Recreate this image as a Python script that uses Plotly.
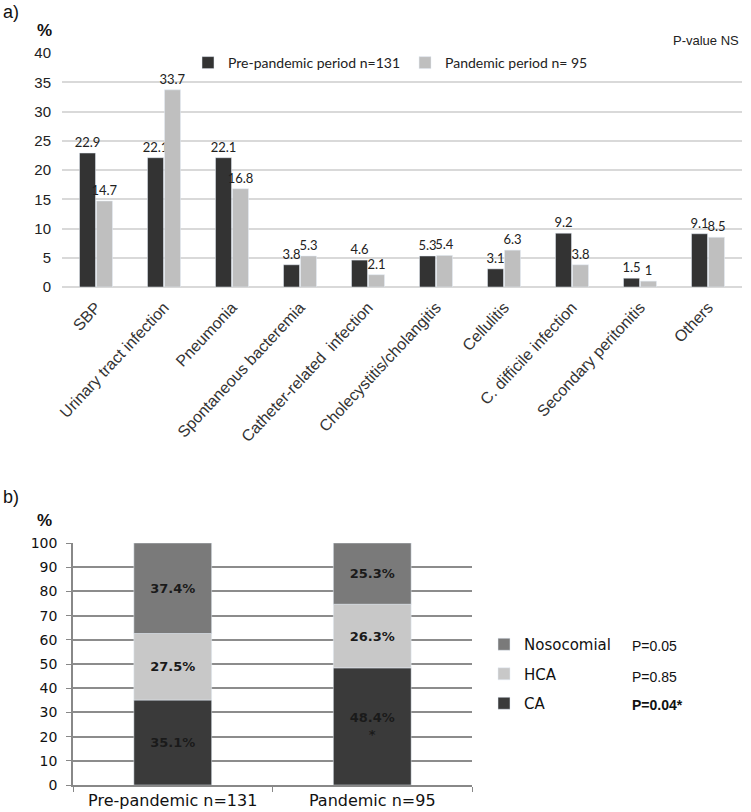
import plotly.graph_objects as go

# ---- Panel a data ----
infections = ["SBP", "Urinary tract infection", "Pneumonia", "Spontaneous bacteremia",
              "Catheter-related  infection", "Cholecystitis/cholangitis", "Cellulitis",
              "C. difficile infection", "Secondary peritonitis", "Others"]
pre_pandemic = [22.9, 22.1, 22.1, 3.8, 4.6, 5.3, 3.1, 9.2, 1.5, 9.1]
pandemic = [14.7, 33.7, 16.8, 5.3, 2.1, 5.4, 6.3, 3.8, 1, 8.5]
a_ticks = [0, 5, 10, 15, 20, 25, 30, 35, 40]

# ---- Panel b data ----
periods = ["Pre-pandemic n=131", "Pandemic n=95"]
ca = [35.1, 48.4]
hca = [27.5, 26.3]
nosocomial = [37.4, 25.3]
ca_text = ["35.1%", "48.4%<br>*"]
b_ticks = [0, 10, 20, 30, 40, 50, 60, 70, 80, 90, 100]
p_values = ["P=0.05", "P=0.85", "<b>P=0.04*</b>"]
p_rows = [646, 677, 705]

W, H = 751, 812
def py(p):  # reference pixel y -> paper
    return min(1, max(0, 1 - p / H))
def px(p):
    return min(1, max(0, p / W))

LATO = "Lato, Liberation Sans, sans-serif"
ARIAL = "Liberation Sans, Arial, sans-serif"
VERD = "DejaVu Sans, Verdana, sans-serif"

fig = go.Figure()

fig.add_trace(go.Bar(x=infections, y=pre_pandemic, name="Pre-pandemic period n=131",
                     marker_color="#333333", text=[str(v) for v in pre_pandemic],
                     textposition="outside", cliponaxis=False, constraintext="none",
                     textfont=dict(family=LATO, size=13, color="#222"),
                     xaxis="x", yaxis="y", legend="legend"))
fig.add_trace(go.Bar(x=infections, y=pandemic, name="Pandemic period n= 95",
                     marker_color="#bfbfbf", text=[str(v) for v in pandemic],
                     textposition="outside", cliponaxis=False, constraintext="none",
                     textfont=dict(family=LATO, size=13, color="#222"),
                     xaxis="x", yaxis="y", legend="legend"))

bfont = dict(family=VERD, size=13, color="#1a1a1a")
seg_common = dict(textposition="inside", insidetextanchor="middle", textangle=0,
                  insidetextfont=bfont, texttemplate="<b>%{text}</b>", constraintext="none",
                  xaxis="x2", yaxis="y2", legend="legend2", offsetgroup="b", width=0.39)
fig.add_trace(go.Bar(x=periods, y=ca, base=[0, 0], name="CA", marker_color="#3a3a3a",
                     text=ca_text, legendgroup="ca", legendrank=3, **seg_common))
fig.add_trace(go.Bar(x=periods, y=hca, base=ca, name="HCA", marker_color="#c8c8c8",
                     text=[f"{v}%" for v in hca], legendgroup="hca", legendrank=2, **seg_common))
fig.add_trace(go.Bar(x=periods, y=nosocomial, base=[c + h for c, h in zip(ca, hca)],
                     name="Nosocomial", marker_color="#7a7a7a",
                     text=[f"{v}%" for v in nosocomial], legendgroup="noso", legendrank=1, **seg_common))

fig.update_layout(
    width=W, height=H, margin=dict(l=0, r=0, t=0, b=0, autoexpand=False),
    paper_bgcolor="white", plot_bgcolor="white",
    barmode="group", bargap=0.5, bargroupgap=0.06,
    showlegend=True,
    xaxis=dict(domain=[px(62), px(742)], tickangle=-47, showgrid=False, showline=False,
               ticks="", ticklabelstandoff=7,
               tickfont=dict(family=ARIAL, size=16, color="#333"), anchor="y"),
    yaxis=dict(domain=[py(287), py(53)], range=[0, 40], tickvals=a_ticks,
               showgrid=True, gridcolor="#d9d9d9", gridwidth=2, zeroline=True,
               zerolinecolor="#d9d9d9", zerolinewidth=2, ticks="", ticklabelstandoff=10,
               tickfont=dict(family=ARIAL, size=15, color="#222"), anchor="x"),
    xaxis2=dict(domain=[px(73), px(472)], showgrid=False, showline=True, linecolor="#888",
                linewidth=1.5, ticks="outside", tickson="boundaries", ticklen=5,
                tickcolor="#888", tickfont=dict(family=VERD, size=16, color="#111"), anchor="y2"),
    yaxis2=dict(domain=[py(785), py(543)], range=[0, 100], tickvals=b_ticks,
                showgrid=True, gridcolor="#8c8c8c", gridwidth=1.5, zeroline=False,
                showline=True, linecolor="#888", linewidth=1.5, ticks="outside", ticklen=5,
                tickcolor="#888", ticklabelstandoff=6,
                tickfont=dict(family=VERD, size=14, color="#111"), anchor="x2"),
    legend=dict(orientation="h", x=px(188), y=py(63), xanchor="left", yanchor="middle",
                font=dict(family=LATO, size=14, color="#222"), bgcolor="rgba(0,0,0,0)"),
    legend2=dict(orientation="v", x=px(484), y=py(674), xanchor="left", yanchor="middle",
                 traceorder="grouped", tracegroupgap=7,
                 font=dict(family=VERD, size=15, color="#111"), bgcolor="rgba(0,0,0,0)"),
)

ann = [
    dict(text="a)", x=px(1), y=py(12), xanchor="left", yanchor="middle", font=dict(family=ARIAL, size=18, color="#111")),
    dict(text="<b>%</b>", x=px(44), y=py(30), xanchor="center", yanchor="middle", font=dict(family=ARIAL, size=17, color="#111")),
    dict(text="P-value NS", x=px(741), y=py(41), xanchor="right", yanchor="middle", font=dict(family=ARIAL, size=13, color="#222")),
    dict(text="b)", x=px(1), y=py(497), xanchor="left", yanchor="middle", font=dict(family=ARIAL, size=18, color="#111")),
    dict(text="<b>%</b>", x=px(44), y=py(520), xanchor="center", yanchor="middle", font=dict(family=ARIAL, size=17, color="#111")),
]
for t, r in zip(p_values, p_rows):
    ann.append(dict(text=t, x=px(630), y=py(r), xanchor="left", yanchor="middle",
                    font=dict(family=ARIAL, size=14, color="#111")))
for a in ann:
    fig.add_annotation(xref="paper", yref="paper", showarrow=False, **a)

fig.write_html("out.html", config={"displayModeBar": False},
               post_script="document.body.style.margin='0';")
